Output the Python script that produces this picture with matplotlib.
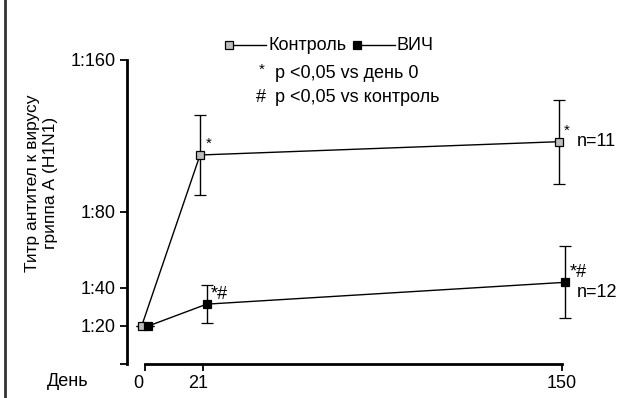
import matplotlib
matplotlib.use("Agg")
import matplotlib.pyplot as plt
import matplotlib.transforms as mtransforms
from matplotlib.lines import Line2D

plt.rcParams['font.family'] = ['Liberation Sans', 'DejaVu Sans']

# data (titer shown as 1:N, plotted as N)
days = [0, 21, 150]
control_mean = [20, 110, 117]
control_err = [0, 21, 22]
hiv_mean = [20, 31.5, 43]
hiv_err = [0, 10, 19]
control_marks = ["", "*", "*"]
hiv_marks = ["", "*#", "*#"]

y_ticks = [0, 20, 40, 80, 160]
y_ticklabels = ["", "1:20", "1:40", "1:80", "1:160"]
x_ticks = [0, 21, 150]

FS = 13
W, H = 621, 398
fig = plt.figure(figsize=(W / 100, H / 100), dpi=100)

# axes placed so that day 0 sits at px 145, day 150 at px 562, value 0 at py 364
px_per_day = (562 - 145) / 150
px_per_val = (364 - 60) / 160
left_px, right_px, bottom_px, top_px = 127, 605, 364, 40
ax = fig.add_axes([left_px / W, 1 - bottom_px / H,
                   (right_px - left_px) / W, (bottom_px - top_px) / H])
ax.set_xlim((left_px - 145) / px_per_day, (right_px - 145) / px_per_day)
ax.set_ylim(0, (bottom_px - top_px) / px_per_val)

dodge = 1.2
xc = [d - dodge for d in days]
xh = [d + dodge for d in days]

style = dict(color='black', lw=1, elinewidth=1, capsize=4, capthick=1,
             marker='s', ms=5.5, mec='black', mew=0.9, zorder=3)
ax.errorbar(xc, control_mean, yerr=control_err, mfc='#bdbdbd', **style)
ax.errorbar(xh, hiv_mean, yerr=hiv_err, mfc='black', **style)

for x, y, m in zip(xc, control_mean, control_marks):
    if m:
        ax.annotate(m, (x, y), xytext=(4, 8), textcoords='offset points',
                    fontsize=11, ha='left', va='center')
for x, y, m in zip(xh, hiv_mean, hiv_marks):
    if m:
        ax.annotate(m, (x, y), xytext=(3, 7), textcoords='offset points',
                    fontsize=FS, ha='left', va='center')

ax.annotate("n=11", (xc[-1], control_mean[-1]), xytext=(13, 0),
            textcoords='offset points', fontsize=FS, ha='left', va='center')
ax.annotate("n=12", (xh[-1], hiv_mean[-1]), xytext=(8, -7),
            textcoords='offset points', fontsize=FS, ha='left', va='center')

# axes styling
for s in ['top', 'right']:
    ax.spines[s].set_visible(False)
ax.spines['left'].set_linewidth(2)
ax.spines['bottom'].set_linewidth(2)
ax.spines['left'].set_bounds(0, 160)
ax.spines['bottom'].set_bounds(0, 150)
ax.set_yticks(y_ticks)
ax.set_yticklabels(y_ticklabels)
ax.set_xticks(x_ticks)
ax.set_xticklabels([str(t) for t in x_ticks])
ax.tick_params(axis='y', length=5, width=1.3, pad=3, labelsize=FS)
ax.tick_params(axis='x', length=5, width=1.3, pad=3, labelsize=FS)

# the printed 0 and 21 sit a little left of their ticks
for lab, shift in zip(ax.get_xticklabels(), [-7, -5, 0]):
    lab.set_transform(lab.get_transform() +
                      mtransforms.ScaledTranslation(shift / 100, 0, fig.dpi_scale_trans))

fig.text(68 / W, 1 - 382 / H, "День", fontsize=FS, ha='center', va='center')

fig.text(42 / W, 1 - 183 / H, "Титр антител к вирусу\nгриппа А (H1N1)",
         rotation=90, fontsize=12.5, ha='center', va='center',
         multialignment='center', linespacing=1.25)

# legend drawn by hand
def fx(px):
    return px / W

def fy(py):
    return 1 - py / H

for x0, x1, fc, label in [(229, 266, '#bdbdbd', "Контроль"),
                          (357, 395, 'black', "ВИЧ")]:
    fig.add_artist(Line2D([fx(x0), fx(x1)], [fy(45), fy(45)], color='black', lw=1))
    fig.add_artist(Line2D([fx(x0)], [fy(45)], marker='s', ms=5.5, mfc=fc,
                          mec='black', mew=0.9, ls='none'))
    fig.text(fx(x1 + 2), fy(45), label, fontsize=FS, ha='left', va='center')

fig.text(fx(262), fy(70), "*", fontsize=11, ha='center', va='center')
fig.text(fx(275), fy(73), "p <0,05 vs день 0", fontsize=FS, ha='left', va='center')
fig.text(fx(261), fy(97), "#", fontsize=FS, ha='center', va='center')
fig.text(fx(275), fy(97), "p <0,05 vs контроль", fontsize=FS, ha='left', va='center')

# frame line on the left edge
fig.add_artist(Line2D([fx(4.5), fx(4.5)], [0, 1], color='#333333', lw=2))

fig.savefig("out.png", dpi=100)
